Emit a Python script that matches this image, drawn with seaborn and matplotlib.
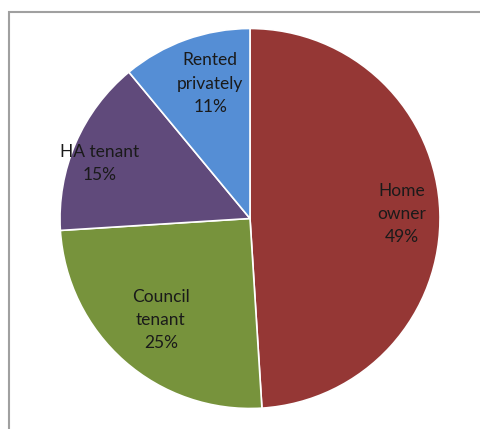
import matplotlib
matplotlib.use("Agg")
import matplotlib.pyplot as plt
import seaborn as sns
import numpy as np
from matplotlib.patches import Rectangle

sns.set_theme(style="white")
plt.rcParams['font.family'] = ['Lato', 'DejaVu Sans']

categories = ["Home\nowner", "Council\ntenant", "HA tenant", "Rented\nprivately"]
values = [49, 25, 15, 11]
colors = ["#953735", "#77933C", "#604A7B", "#558ED5"]
label_r = [0.80, 0.71, 0.84, 0.74]
label_shift = [0, 0, 3.4, -3.4]

W, H = 480, 429
fig = plt.figure(figsize=(W / 100, H / 100), dpi=100)
ax = fig.add_axes([0, 0, 1, 1])

cx, cy, R = 250, H - 218.5, 190
wedges, _ = ax.pie(values, colors=colors, startangle=90, counterclock=False,
                   center=(cx, cy), radius=R, frame=True,
                   wedgeprops=dict(edgecolor="white", linewidth=1.2))
ax.set_xlim(0, W)
ax.set_ylim(0, H)
ax.set_aspect('equal')
ax.axis('off')

total = sum(values)
for w, cat, v, r, s in zip(wedges, categories, values, label_r, label_shift):
    ang = np.deg2rad((w.theta1 + w.theta2) / 2 + s)
    x = cx + r * R * np.cos(ang)
    y = cy + r * R * np.sin(ang)
    ax.text(x, y, f"{cat}\n{round(100 * v / total)}%", ha="center", va="center",
            fontsize=12.5, color="#1a1a1a", linespacing=1.55)

fig.patches.append(Rectangle((9 / W, -0.1), 1.2, (H - 12) / H + 0.1,
                             transform=fig.transFigure, fill=False,
                             edgecolor="#A0A0A0", linewidth=1.5))
fig.savefig("out.png", dpi=100)
